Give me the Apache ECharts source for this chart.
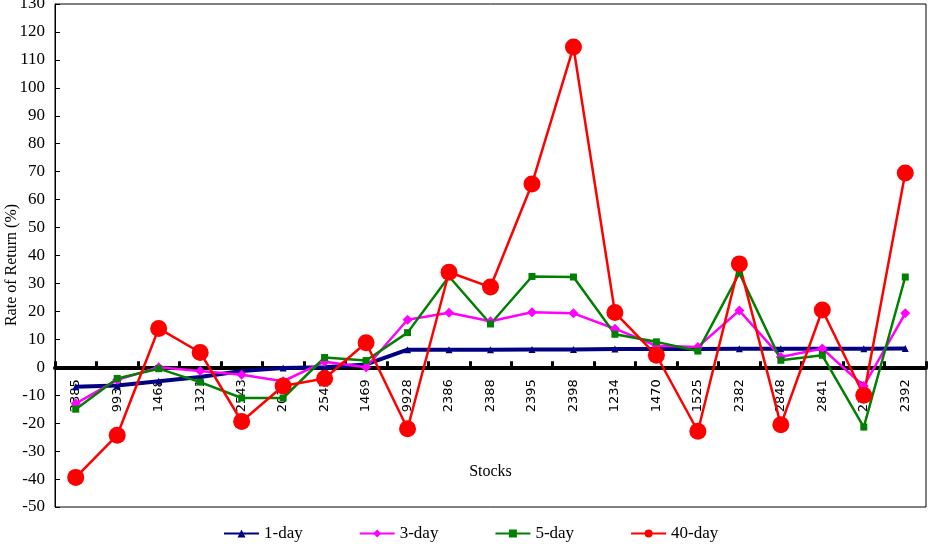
<!DOCTYPE html>
<html><head><meta charset="utf-8">
<script src="https://cdn.jsdelivr.net/npm/echarts@6/dist/echarts.min.js"></script>
<style>html,body{margin:0;padding:0;background:#fff}#c{width:937px;height:557px}</style>
</head><body><div id="c"></div>
<script>
const categories = ['2385','9930','1468','1321','2543','2030','2542','1469','9928','2386','2388','2395','2398','1234','1470','1525','2382','2848','2841','2387','2392'];
const day1 = [-7, -6.5, -5, -3.5, -1.3, -0.3, 0, 1, 6.3, 6.3, 6.3, 6.4, 6.4, 6.5, 6.5, 6.5, 6.6, 6.6, 6.6, 6.6, 6.7];
const day3 = [-13, -4.5, 0, -1.3, -2.7, -5, 2, 0, 17, 19.5, 16.5, 19.7, 19.3, 13.8, 7.7, 7.3, 20.3, 3.7, 6.7, -6.7, 19.3];
const day5 = [-15, -4, -0.5, -5.3, -11, -11, 3.5, 2.4, 12.4, 32.5, 15.5, 32.5, 32.3, 11.8, 9.1, 5.8, 33.7, 2.5, 4.3, -21.4, 32.3];
const day40 = [-39.4, -24.3, 13.9, 5.3, -19.4, -6.7, -4, 8.8, -22, 34, 28.7, 65.6, 114.6, 19.6, 4.3, -22.9, 37, -20.6, 20.5, -10, 69.5];
const yMin = -50, yMax = 130, yInterval = 10;

const serif = '"Liberation Serif", "DejaVu Serif", serif';
const W = 937, H = 557;
const grid = {left: 55, right: 11, top: 4, bottom: 50};
const gridH = H - grid.top - grid.bottom;
const zeroOffset = -gridH * (0 - yMin) / (yMax - yMin);

const chart = echarts.init(document.getElementById('c'), null, {renderer: 'canvas'});
function s(name, data, color, symbol, size, width) {
  return {name, type: 'line', data, color, symbol, symbolSize: size,
    lineStyle: {color, width}, itemStyle: {color}, showSymbol: true, animation: false};
}
chart.setOption({
  animation: false,
  backgroundColor: '#fff',
  grid: Object.assign({show: true, borderColor: '#000', borderWidth: 1, containLabel: false, outerBoundsMode: 'none'}, grid),
  xAxis: {
    type: 'category', data: categories, boundaryGap: true, offset: zeroOffset,
    axisLine: {onZero: false, lineStyle: {color: '#000', width: 4}},
    axisTick: {show: true, inside: true, length: 6, lineStyle: {color: '#000', width: 3}},
    axisLabel: {rotate: 90, color: '#000', fontFamily: '"DejaVu Sans", sans-serif', fontSize: 13, margin: 12, interval: 0},
    name: 'Stocks', nameLocation: 'middle', nameGap: 97,
    nameTextStyle: {fontFamily: serif, fontSize: 16, color: '#000'},
    splitLine: {show: false}
  },
  yAxis: {
    type: 'value', min: yMin, max: yMax, interval: yInterval,
    axisLine: {show: true, lineStyle: {color: '#000', width: 1}},
    axisTick: {show: true, inside: true, length: 5, lineStyle: {color: '#000'}},
    axisLabel: {color: '#000', fontFamily: serif, fontSize: 17, margin: 10},
    splitLine: {show: false}
  },
  legend: {
    top: 520, left: 218, itemGap: 56, itemWidth: 35, itemHeight: 10,
    textStyle: {fontFamily: serif, fontSize: 17, color: '#000'},
    data: ['1-day', '3-day', '5-day', '40-day']
  },
  graphic: [{
    type: 'text', x: 12, y: 265, rotation: Math.PI / 2,
    style: {text: 'Rate of Return (%)', font: '16px ' + serif, fill: '#000', textAlign: 'center', textVerticalAlign: 'middle'}
  }],
  series: [
    s('1-day', day1, '#000080', 'triangle', 7, 4),
    s('3-day', day3, '#FF00FF', 'diamond', 10, 2.5),
    s('5-day', day5, '#008000', 'rect', 7, 2.5),
    s('40-day', day40, '#FF0000', 'circle', 17, 2.5)
  ]
});
</script></body></html>
